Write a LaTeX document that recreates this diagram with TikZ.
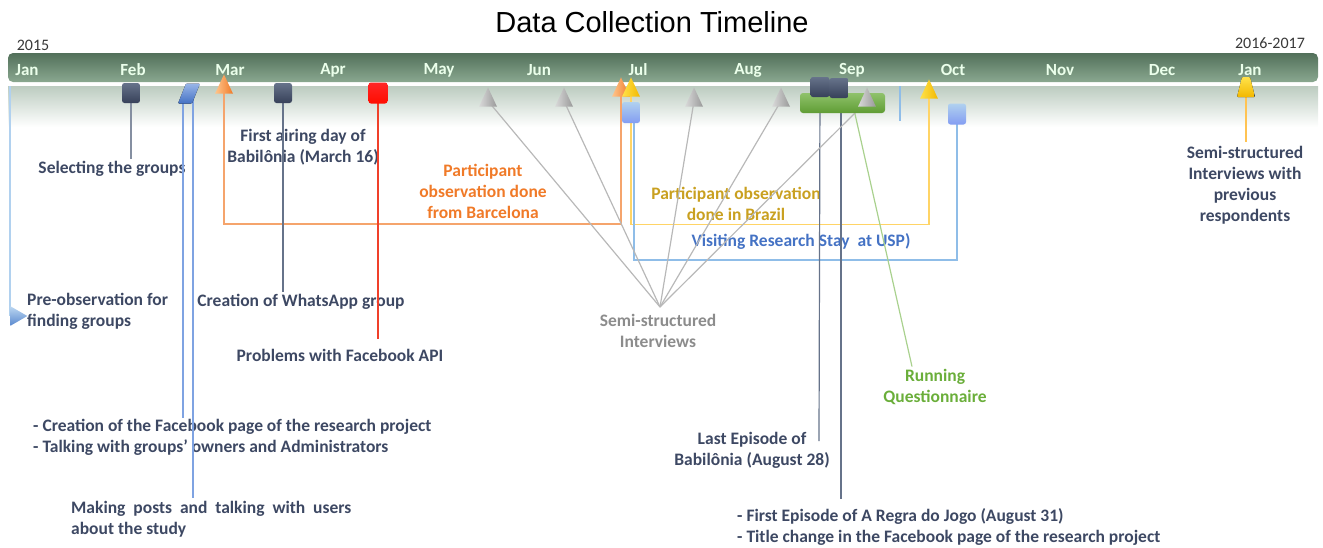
\documentclass[tikz,border=0pt]{standalone}
\usepackage{fontspec}
\setmainfont{Carlito}
\newfontfamily\titlefont{Liberation Sans}
\usetikzlibrary{shapes.geometric}

\definecolor{slatetext}{HTML}{3D4863}
\definecolor{slateline}{HTML}{66738A}
\definecolor{orangetext}{HTML}{F07A28}
\definecolor{orangeline}{HTML}{F5A46C}
\definecolor{goldtext}{HTML}{C9A020}
\definecolor{goldline}{HTML}{FFD466}
\definecolor{goldlight}{HTML}{FFE24A}
\definecolor{golddark}{HTML}{F2B800}
\definecolor{bluetext}{HTML}{4472C4}
\definecolor{blueline}{HTML}{8FBDE8}
\definecolor{greytext}{HTML}{8C8C8C}
\definecolor{greyline}{HTML}{B8B8B8}
\definecolor{greentext}{HTML}{6AAE3A}
\definecolor{greenline}{HTML}{A9D18E}
\definecolor{redline}{HTML}{F0402A}
\definecolor{paraline}{HTML}{7FA3E2}
\definecolor{barlight}{HTML}{8AA890}
\definecolor{bardark}{HTML}{52705A}
\definecolor{haze}{HTML}{BCCCC0}

\tikzset{
  lbl/.style={font=\fontsize{17.5}{21}\selectfont\bfseries, text=slatetext, align=center, inner sep=0},
  month/.style={font=\fontsize{17}{20}\selectfont\bfseries, text=white!92!green, inner sep=0},
  year/.style={font=\fontsize{16}{19}\selectfont, text=black!78, inner sep=0},
  box/.style={rectangle, rounded corners=2.5, minimum width=18, minimum height=20, inner sep=0},
  slatebox/.style={box, top color=slateline, bottom color=slatetext!90!black},
  cone/.style={isosceles triangle, shape border rotate=90, isosceles triangle apex angle=50,
               minimum size=18, inner sep=0},
  greycone/.style={cone, left color=black!15, right color=black!40},
  orangecone/.style={cone, left color=orange!45!white, right color=orangetext},
  goldcone/.style={cone, left color=goldlight, right color=golddark},
  bluebox/.style={box, minimum height=21, top color=blueline!70!white, bottom color=blueline!70!blue!80!white},
  wire/.style={line width=1.2},
}

\begin{document}
\begin{tikzpicture}[x=1pt, y=-1pt]
\useasboundingbox (0,0) rectangle (1323,547);

% title and year captions
\node[font=\titlefont\fontsize{29}{34}\selectfont, inner sep=0] (title) at (652,22) {Data Collection Timeline};
\node[year] (y2015) at (33,45) {2015};
\node[year] (y2016) at (1270,43) {2016-2017};

% timeline bar with its soft reflection
\fill[top color=haze, bottom color=white] (8,86) rectangle (1318,127);
\node[rectangle, rounded corners=5, minimum width=1310, minimum height=29, inner sep=0,
      top color=bardark, bottom color=barlight] (bar) at (663,67.5) {};

\node[month] (mjan) at (27,70) {Jan};
\node[month] (mfebl) at (133,70) {Feb};
\node[month] (mmarl) at (230,70) {Mar};
\node[month] (maprl) at (333,70) {Apr};
\node[month] (mmayl) at (439,70) {May};
\node[month] (mjunl) at (539,70) {Jun};
\node[month] (mjull) at (638,70) {Jul};
\node[month] (maugl) at (748,70) {Aug};
\node[month] (msepl) at (852,70) {Sep};
\node[month] (moctl) at (953,70) {Oct};
\node[month] (mnovl) at (1060,70) {Nov};
\node[month] (mdecl) at (1162,70) {Dec};
\node[month] (mjan2) at (1250,70) {Jan};

% labels
\node[lbl] (sel) at (112,169) {Selecting the groups};
\node[lbl] (air) at (303,147.5) {First airing day of\\Babilônia (March 16)};
\node[lbl, text=orangetext] (obsbcn) at (483,191) {Participant\\observation done\\from Barcelona};
\node[lbl, text=goldtext] (obsbr) at (736,204) {Participant observation\\done in Brazil};
\node[lbl, text=bluetext] (usp) at (801,241) {Visiting Research Stay\ \ at USP)};
\node[lbl, align=left, anchor=west] (pre) at (27,311) {Pre-observation for\\finding groups};
\node[lbl] (wa) at (301,302) {Creation of WhatsApp group};
\node[lbl] (api) at (340,355) {Problems with Facebook API};
\node[lbl, text=greytext] (semi) at (658,330.5) {Semi-structured\\Interviews};
\node[lbl, text=greentext] (quest) at (935,386.5) {Running\\Questionnaire};
\node[lbl] (prev) at (1245,185) {Semi-structured\\Interviews with\\previous\\respondents};
\node[lbl, align=left, anchor=west] (fbpage) at (33,437.5)
  {- Creation of the Facebook page of the research project\\- Talking with groups’ owners and Administrators};
\node[lbl, align=left, anchor=west] (posts) at (71,519.5)
  {Making\ \ posts\ \ and\ \ talking\ \ with\ \ users\\about the study};
\node[lbl] (last) at (752,450.5) {Last Episode of\\Babilônia (August 28)};
\node[lbl, align=left, anchor=west] (regra) at (737,526.5)
  {- First Episode of A Regra do Jogo (August 31)\\- Title change in the Facebook page of the research project};

% marker positions
\coordinate (prebar) at (10,86);
\coordinate (fbend) at (183,418);
\coordinate (postend) at (193,498);
\coordinate (hub) at (660,307);
\coordinate (oy) at (0,224);
\coordinate (yy) at (0,224.5);
\coordinate (by) at (0,260);
\coordinate (lastend) at (819,441);
\coordinate (regraend) at (841,499);
\coordinate (tickA) at (900,86);
\coordinate (tickB) at (900,121);

\path (131,93) coordinate (pfeb)
      (189,93.5) coordinate (ppara)
      (224,88) coordinate (pmar)
      (283,93) coordinate (pwa)
      (378,93) coordinate (pred)
      (621,91) coordinate (pjulo)
      (631,91) coordinate (pjuly)
      (631,112.5) coordinate (pjulb)
      (842.5,103) coordinate (pgreen)
      (820,87) coordinate (ps1)
      (839,88) coordinate (ps2)
      (929,93) coordinate (poct)
      (957,114) coordinate (poctb)
      (1246,87) coordinate (pjan16)
      (16,316) coordinate (ppre);

% connectors
\draw[wire, blueline!70!white] (prebar) -- (prebar |- ppre);
\draw[wire, slateline!80!white] (pfeb) -- ([yshift=2]pfeb |- sel.north);
\draw[wire, paraline] (fbend |- ppara) -- (fbend);
\draw[wire, paraline] (postend |- ppara) -- (postend);
\draw[wire, orangeline] (pmar) -- (pmar |- oy) -| (pjulo);
\draw[wire, slateline] (pwa) -- ([yshift=2]pwa |- wa.north);
\draw[wire, redline] (pred) -- ([yshift=10]pred |- api.north);
\draw[wire, goldline] (pjuly) -- (pjuly |- yy) -| (poct);
\draw[wire, blueline] ([xshift=3]pjulb) -- ([xshift=3]pjulb |- by) -| (poctb);
\draw[wire, slateline] (ps1) -- (lastend);
\draw[wire, slateline] (ps2 -| regraend) -- (regraend);
\draw[wire, greenline] ([xshift=10]pgreen) -- ([xshift=-23,yshift=2]quest.north);
\draw[wire, goldline!80!orange] (pjan16) -- ([yshift=4]pjan16 |- prev.north);
\draw[wire, blueline] (tickA) -- (tickB);

% grey interview cones and their spokes
\foreach \n/\x in {g1/488, g2/564, g3/694, g4/781, g5/867} {
  \coordinate (\n) at (\x,101);
  \draw[wire, greyline] (\n) -- (hub);
}

% markers
\node[slatebox] (mfeb) at (pfeb) {};
\fill[top color=paraline!80!white, bottom color=bluetext, rounded corners=1]
  ([shift={(-3,-10)}]ppara) -- ([shift={(11,-10)}]ppara) -- ([shift={(3,10)}]ppara)
  -- ([shift={(-11,10)}]ppara) -- cycle;
\node[orangecone] (mmar) at (pmar) {};
\node[slatebox] (mwa) at (pwa) {};
\node[box, minimum width=19, minimum height=21, top color=red!85!white, bottom color=red!90!orange] (mred) at (pred) {};
\foreach \n in {g1,g2,g3,g4} \node[greycone] at (\n) {};
\node[orangecone] (mjulo) at (pjulo) {};
\node[goldcone] (mjuly) at (pjuly) {};
\node[bluebox] (mjulb) at (pjulb) {};
\node[rectangle, rounded corners=3, minimum width=85, minimum height=20, inner sep=0,
      top color=greentext!75!white, bottom color=greentext!90!black] (mgreen) at (pgreen) {};
\node[slatebox, minimum width=19] (ms1) at (ps1) {};
\node[slatebox, minimum width=19] (ms2) at (ps2) {};
\node[greycone] (mg5) at (g5) {};
\node[goldcone] (moct) at (poct) {};
\node[bluebox] (moctb) at (poctb) {};
\fill[top color=goldlight, bottom color=golddark, rounded corners=1]
  ([shift={(-4,-10)}]pjan16) -- ([shift={(4,-10)}]pjan16) -- ([shift={(9,10)}]pjan16)
  -- ([shift={(-9,10)}]pjan16) -- cycle;
\node[isosceles triangle, isosceles triangle apex angle=60, minimum size=17, inner sep=0,
      top color=blueline!60!white, bottom color=bluetext!70!blueline] (mpre) at (ppre) {};
\end{tikzpicture}
\end{document}
